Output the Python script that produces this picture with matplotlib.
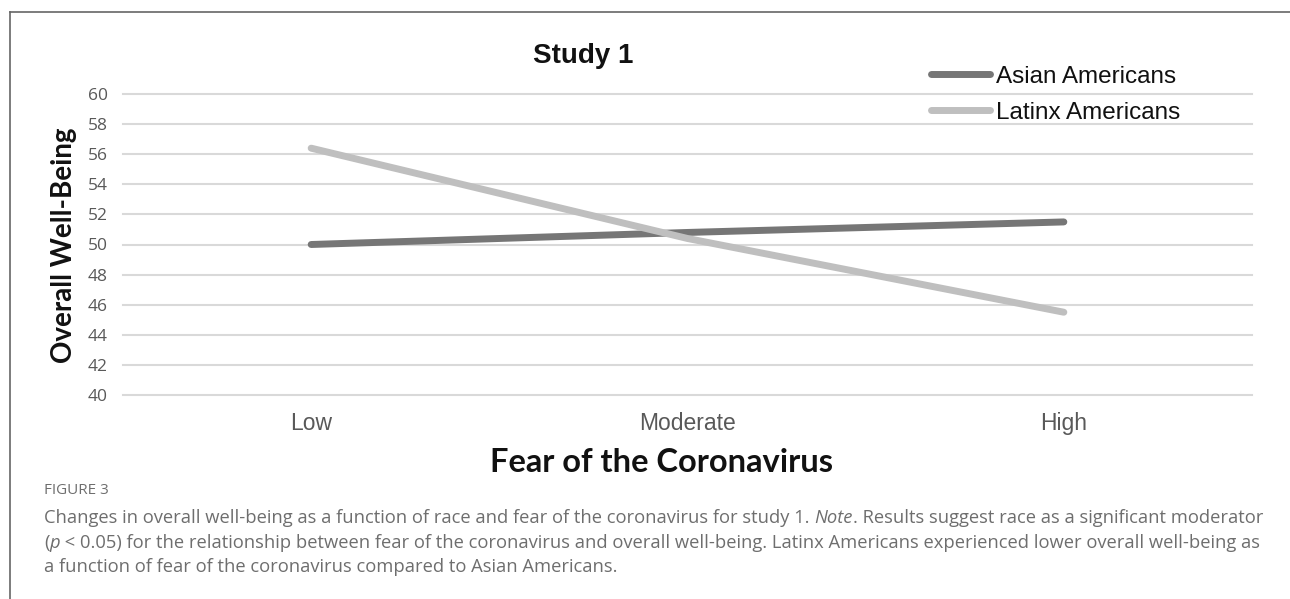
import matplotlib
matplotlib.use("Agg")
import matplotlib.pyplot as plt
from matplotlib.lines import Line2D

categories = ["Low", "Moderate", "High"]
asian = [50.0, 50.8, 51.5]
latinx = [56.4, 50.4, 45.5]
series_names = ["Asian Americans", "Latinx Americans"]
yticks = [40, 42, 44, 46, 48, 50, 52, 54, 56, 58, 60]

W, H = 1290, 599
fig = plt.figure(figsize=(W / 100, H / 100), dpi=100)

def fx(px):
    return px / W

def fy(py):
    return 1 - py / H

# axes placement (pixel coords from the reference)
left, right, top, bottom = 123, 1252, 94, 395
ax = fig.add_axes([fx(left), fy(bottom), fx(right) - fx(left), fy(top) - fy(bottom)])
x = list(range(len(categories)))
l1, = ax.plot(x, asian, color="#767676", lw=5, solid_capstyle="round", zorder=3)
l2, = ax.plot(x, latinx, color="#bfbfbf", lw=5, solid_capstyle="round", zorder=3)
ax.set_xlim(-0.5, 2.5)
ax.set_ylim(40, 60)
ax.set_yticks(yticks)
ax.set_xticks(x)
ax.set_xticklabels(categories, fontsize=16.5, color="#595959", family="Liberation Sans")
for lab in ax.get_yticklabels():
    lab.set_fontsize(12.5)
    lab.set_color("#595959")
    lab.set_family("Open Sans")
ax.tick_params(axis="both", length=0)
ax.tick_params(axis="y", pad=11)
ax.tick_params(axis="x", pad=12)
ax.grid(axis="y", color="#d9d9d9", lw=1.5)
for gl in ax.get_ygridlines():
    gl.set_clip_on(False)
for s in ax.spines.values():
    s.set_visible(False)

# legend
leg = fig.legend([l1, l2], series_names, loc="upper left",
                 bbox_to_anchor=(fx(921), fy(56)), frameon=False,
                 prop={"family": "Liberation Sans", "size": 17.5},
                 handlelength=2.45, handletextpad=0.25, labelspacing=0.58,
                 borderaxespad=0)
for t in leg.get_texts():
    t.set_color("#111111")

# titles
fig.text(fx(583), fy(56), "Study 1", ha="center", va="center",
         fontsize=20, fontweight="bold", family="Liberation Sans", color="#111111")
fig.text(fx(64), fy(245), "Overall Well-Being", ha="center", va="center", rotation=90,
         fontsize=20, fontweight="bold", family="Lato", color="#111111")
fig.text(fx(662), fy(463), "Fear of the Coronavirus", ha="center", va="center",
         fontsize=23.5, fontweight="bold", family="Lato", color="#111111")

# frame lines
fig.add_artist(Line2D([fx(10), 1], [fy(12), fy(12)], color="#666666", lw=1.2))
fig.add_artist(Line2D([fx(10), fx(10)], [fy(12), 0], color="#666666", lw=1.2))

# caption
cap_color = "#6e6e6e"
cap_font = "Open Sans"
cap_size = 13.2
cap_x = 44
fig.text(fx(cap_x), fy(490), "FIGURE 3", ha="left", va="center", fontsize=11,
         family=cap_font, color=cap_color)

renderer = fig.canvas.get_renderer()

def line_pieces(y_px, pieces):
    xpos = fx(cap_x)
    for txt, style in pieces:
        t = fig.text(xpos, fy(y_px), txt, ha="left", va="center", fontsize=cap_size,
                     family=cap_font, style=style, color=cap_color)
        bb = t.get_window_extent(renderer=renderer)
        xpos = xpos + bb.width / W

line_pieces(518, [("Changes in overall well-being as a function of race and fear of the coronavirus for study 1. ", "normal"),
                  ("Note", "italic"),
                  (". Results suggest race as a significant moderator", "normal")])
line_pieces(543, [("(", "normal"), ("p", "italic"),
                  (" < 0.05) for the relationship between fear of the coronavirus and overall well-being. Latinx Americans experienced lower overall well-being as", "normal")])
line_pieces(567, [("a function of fear of the coronavirus compared to Asian Americans.", "normal")])

fig.savefig("out.png", dpi=100)
